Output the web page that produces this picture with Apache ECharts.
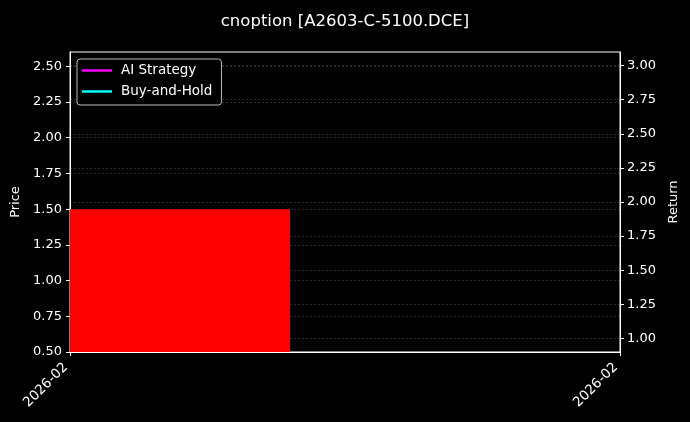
<!DOCTYPE html>
<html>
<head>
<meta charset="utf-8">
<script src="https://cdn.jsdelivr.net/npm/echarts@6/dist/echarts.min.js"></script>
<style>
html,body{margin:0;padding:0;background:#000;}
#chart{width:690px;height:422px;}
</style>
</head>
<body>
<div id="chart"></div>
<script>
// ---- data ----
const chartTitle = 'cnoption [A2603-C-5100.DCE]';
const xTickValues = [0, 1];
const xTickLabels = ['2026-02', '2026-02'];
const priceTicks = [0.5, 0.75, 1.0, 1.25, 1.5, 1.75, 2.0, 2.25, 2.5];
const returnTicks = [1.0, 1.25, 1.5, 1.75, 2.0, 2.25, 2.5, 2.75, 3.0];
const priceRange = [0.5, 2.6];
const returnRange = [0.9, 3.1];
// price bar: [xStart, xEnd, price]
const priceBars = [[0, 0.4, 1.5]];
const aiStrategy = [];
const buyAndHold = [];

const font = 'DejaVu Sans';
const fs = 13;
const chart = echarts.init(document.getElementById('chart'));
const gridLine = {show: true, lineStyle: {color: 'rgba(255,255,255,0.2)', type: [2, 2], width: 0.8}};
chart.setOption({
  backgroundColor: '#000',
  animation: false,
  textStyle: {fontFamily: font, color: '#fff'},
  title: {
    text: chartTitle, left: 'center', top: 8,
    textStyle: {color: '#fff', fontFamily: font, fontSize: 16.5, fontWeight: 'normal'}
  },
  grid: {left: 70, right: 70, top: 52, bottom: 70, show: true, borderColor: '#fff', borderWidth: 1, backgroundColor: '#000'},
  legend: {
    orient: 'vertical', left: 77, top: 59, icon: 'rect',
    backgroundColor: '#000', borderColor: '#bbb', borderWidth: 1, borderRadius: 3,
    padding: [4, 9, 6, 5], itemGap: 6, itemWidth: 30, itemHeight: 2.5,
    textStyle: {color: '#fff', fontFamily: font, fontSize: 13.5, lineHeight: 15, padding: [0, 0, 0, 4]},
    data: [
      {name: 'AI Strategy', itemStyle: {color: '#ff00ff'}},
      {name: 'Buy-and-Hold', itemStyle: {color: '#00ffff'}}
    ]
  },
  xAxis: {
    type: 'value', min: 0, max: 1,
    axisLine: {show: true, lineStyle: {color: '#fff'}},
    axisTick: {show: true, customValues: xTickValues, length: 4, lineStyle: {color: '#fff'}},
    axisLabel: {
      customValues: xTickValues, rotate: 45, color: '#fff', fontFamily: font, fontSize: 13.5, margin: 9,
      padding: [0, 6, 0, 0],
      formatter: (v) => xTickLabels[xTickValues.indexOf(v)] || ''
    },
    splitLine: {show: false}
  },
  yAxis: [{
    type: 'value', min: priceRange[0], max: priceRange[1], position: 'left',
    name: 'Price', nameLocation: 'middle', nameGap: 46, nameRotate: 90,
    nameTextStyle: {color: '#fff', fontFamily: font, fontSize: fs},
    axisLine: {show: true, lineStyle: {color: '#fff'}},
    axisTick: {show: true, customValues: priceTicks, length: 4, lineStyle: {color: '#fff'}},
    axisLabel: {customValues: priceTicks, color: '#fff', fontFamily: font, fontSize: fs, margin: 8,
      formatter: (v) => v.toFixed(2)},
    splitLine: gridLine
  }, {
    type: 'value', min: returnRange[0], max: returnRange[1], position: 'right',
    name: 'Return', nameLocation: 'middle', nameGap: 45, nameRotate: 90,
    nameTextStyle: {color: '#fff', fontFamily: font, fontSize: fs},
    axisLine: {show: true, lineStyle: {color: '#fff'}},
    axisTick: {show: true, customValues: returnTicks, length: 4, lineStyle: {color: '#fff'}},
    axisLabel: {customValues: returnTicks, color: '#fff', fontFamily: font, fontSize: fs, margin: 7,
      formatter: (v) => v.toFixed(2)},
    splitLine: gridLine
  }],
  series: [{
    type: 'custom', name: 'Price', yAxisIndex: 0, clip: true,
    encode: {x: [0, 1], y: 2},
    data: priceBars,
    renderItem: (params, api) => {
      const p0 = api.coord([api.value(0), api.value(2)]);
      const p1 = api.coord([api.value(1), priceRange[0]]);
      return {type: 'rect', shape: {x: p0[0], y: p0[1], width: p1[0] - p0[0], height: p1[1] - p0[1]},
        style: {fill: '#ff0000'}};
    },
    z: 1
  }, {
    type: 'line', name: 'AI Strategy', yAxisIndex: 1, data: aiStrategy, symbol: 'none',
    color: '#ff00ff', lineStyle: {color: '#ff00ff', width: 2}, z: 3
  }, {
    type: 'line', name: 'Buy-and-Hold', yAxisIndex: 1, data: buyAndHold, symbol: 'none',
    color: '#00ffff', lineStyle: {color: '#00ffff', width: 2}, z: 3
  }]
});
</script>
</body>
</html>
